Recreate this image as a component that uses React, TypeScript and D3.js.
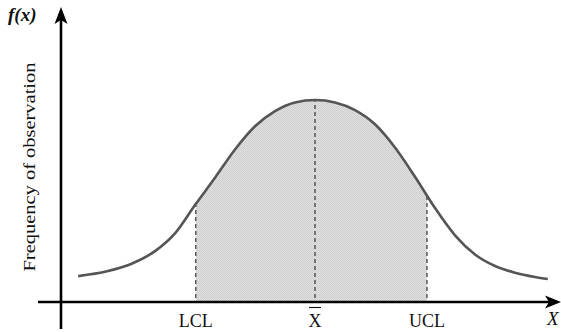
import React from "react";
import * as d3 from "d3";

// Curve readings: z (distance from mean) and relative frequency (peak = 1)
const curveZ = [-2.96, -2.6, -2.3, -2.0, -1.75, -1.5, -1.25, -1.0, -0.75, -0.5, -0.25, 0, 0.25, 0.5, 0.75, 1.0, 1.25, 1.5, 1.75, 2.0, 2.25, 2.5, 2.75, 2.91];
const curveF = [0.128, 0.152, 0.188, 0.252, 0.34, 0.48, 0.615, 0.755, 0.87, 0.945, 0.988, 1.0, 0.988, 0.95, 0.88, 0.765, 0.62, 0.465, 0.33, 0.235, 0.178, 0.145, 0.124, 0.114];

const markerNames = ["LCL", "X", "UCL"];
const markerZ = [-1.49, 0, 1.4];

const W = 561;
const H = 332;

export default function App() {
  const x = d3.scaleLinear().domain([-3, 3]).range([75, 555]);
  const y = d3.scaleLinear().domain([0, 1]).range([302, 100]);
  const pts: [number, number][] = curveZ.map((z, i) => [z, curveF[i]]);

  const line = d3
    .line<[number, number]>()
    .x((d) => x(d[0]))
    .y((d) => y(d[1]))
    .curve(d3.curveMonotoneX);
  const area = d3
    .area<[number, number]>()
    .x((d) => x(d[0]))
    .y0(y(0))
    .y1((d) => y(d[1]))
    .curve(d3.curveMonotoneX);

  const axisY = y(0);
  const yAxisX = 61;
  const lcl = x(markerZ[0]);
  const ucl = x(markerZ[2]);

  return (
    <svg
      width={W}
      height={H}
      style={{ position: "absolute", left: 0, top: 0, display: "block" }}
      fontFamily="'Liberation Serif', 'DejaVu Serif', serif"
    >
      <defs>
        <pattern id="dots" width="2" height="2" patternUnits="userSpaceOnUse">
          <rect width="2" height="2" fill="#e2e2e2" />
          <rect width="1" height="1" fill="#cdcdcd" />
          <rect x="1" y="1" width="1" height="1" fill="#cdcdcd" />
        </pattern>
        <clipPath id="band">
          <rect x={lcl} y={0} width={ucl - lcl} height={axisY} />
        </clipPath>
        <clipPath id="under">
          <path d={area(pts) || ""} />
        </clipPath>
      </defs>
      <rect width={W} height={H} fill="#fff" />

      {/* shaded band */}
      <path d={area(pts) || ""} fill="url(#dots)" clipPath="url(#band)" />

      {/* dashed guides */}
      <g clipPath="url(#under)">
        {markerZ.map((z, i) => (
          <line
            key={i}
            x1={x(z)}
            x2={x(z)}
            y1={0}
            y2={axisY}
            stroke="#333"
            strokeWidth={1.2}
            strokeDasharray="4,3"
          />
        ))}
      </g>

      {/* curve */}
      <path d={line(pts) || ""} fill="none" stroke="#555" strokeWidth={2.6} />

      {/* axes */}
      <line x1={38} x2={550} y1={axisY} y2={axisY} stroke="#000" strokeWidth={2.6} />
      <path
        d={`M561,${axisY} L545,${axisY - 6.5} L549,${axisY} L545,${axisY + 6.5} Z`}
        fill="#000"
      />
      <line x1={yAxisX} x2={yAxisX} y1={329} y2={20} stroke="#000" strokeWidth={2.6} />
      <path
        d={`M${yAxisX},7 L${yAxisX - 6.5},24 L${yAxisX},20 L${yAxisX + 6.5},24 Z`}
        fill="#000"
      />

      {/* tick labels */}
      {markerNames.map((n, i) => (
        <text
          key={n}
          x={x(markerZ[i])}
          y={327}
          textAnchor="middle"
          fontSize={18}
          fill="#111"
        >
          {n}
        </text>
      ))}
      <line x1={x(0) - 6} x2={x(0) + 6} y1={307.5} y2={307.5} stroke="#111" strokeWidth={1.1} />

      {/* axis titles */}
      <text x={8} y={21} fontSize={19} fontStyle="italic" fontWeight={700} fill="#111">
        f(x)
      </text>
      <text x={547} y={325} fontSize={19} fontStyle="italic" fill="#111">
        X
      </text>
      <text
        transform="translate(35,167) rotate(-90)"
        textAnchor="middle"
        fontSize={16}
        fill="#111"
        textLength={209}
        lengthAdjust="spacingAndGlyphs"
      >
        Frequency of observation
      </text>
    </svg>
  );
}
